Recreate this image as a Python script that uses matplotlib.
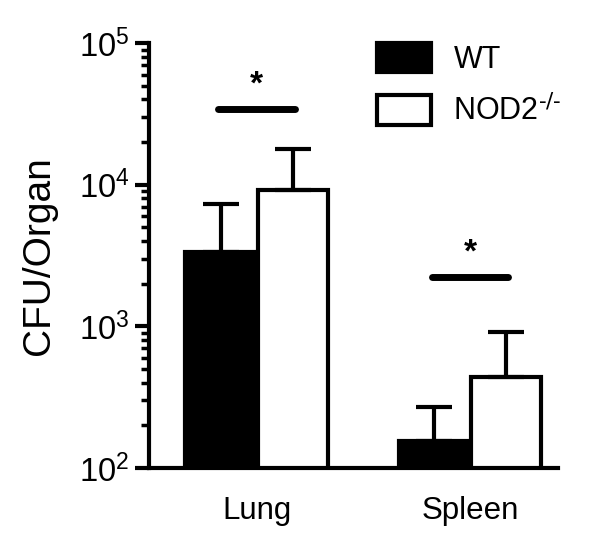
import matplotlib
matplotlib.use("Agg")
import matplotlib.pyplot as plt
import numpy as np
from matplotlib.ticker import LogLocator

plt.rcParams["font.family"] = ["Liberation Sans", "DejaVu Sans"]
plt.rcParams["mathtext.default"] = "regular"

organs = ["Lung", "Spleen"]
groups = ["WT", "NOD2$^{\\text{-/-}}$"]
wt_mean = [3340, 155]
wt_err_top = [7300, 270]
ko_mean = [9230, 438]
ko_err_top = [17950, 912]
sig_level = [34200, 2230]
sig_label = ["*", "*"]

x = np.arange(len(organs))
width = 0.33
gap = 0.01

fig = plt.figure(figsize=(6.0, 5.39), dpi=100)
ax = fig.add_axes([0.248, 0.132, 0.682, 0.788])
ax.set_yscale("log")

edge_lw = 3.0
err_kw = dict(elinewidth=3.0, capsize=13, capthick=3.0, ecolor="black")

wt_x = x - width / 2 - gap / 2
ko_x = x + width / 2 + gap / 2
wt_yerr = [np.zeros(len(organs)), np.array(wt_err_top) - np.array(wt_mean)]
ko_yerr = [np.zeros(len(organs)), np.array(ko_err_top) - np.array(ko_mean)]

ax.bar(wt_x, wt_mean, width, color="black", edgecolor="black", linewidth=edge_lw,
       yerr=wt_yerr, error_kw=err_kw, label=groups[0], zorder=2)
ax.bar(ko_x, ko_mean, width, color="white", edgecolor="black", linewidth=edge_lw,
       yerr=ko_yerr, error_kw=err_kw, label=groups[1], zorder=2)

# significance bars
half = 0.18
for i in range(len(organs)):
    ax.plot([x[i] - half, x[i] + half], [sig_level[i], sig_level[i]],
            color="black", lw=5, solid_capstyle="round", zorder=3)
    ax.text(x[i], sig_level[i] * 1.15, sig_label[i], ha="center", va="bottom",
            fontsize=24, fontweight="bold")

ax.set_ylim(100, 1e5)
ax.set_xlim(-0.507, 1.413)
ax.set_xticks(x)
ax.set_xticklabels(organs, fontsize=22.5)
ax.tick_params(axis="x", length=0, pad=20)
ax.yaxis.set_major_locator(LogLocator(base=10, numticks=10))
ax.yaxis.set_minor_locator(LogLocator(base=10, subs=np.arange(2, 10), numticks=10))
ax.tick_params(axis="y", which="major", length=10, width=3, labelsize=23.5, pad=4)
ax.tick_params(axis="y", which="minor", length=6, width=2.5)
ax.set_ylabel("CFU/Organ", fontsize=28)
ax.yaxis.set_label_coords(-0.225, 0.5)

for side in ["top", "right"]:
    ax.spines[side].set_visible(False)
for side in ["left", "bottom"]:
    ax.spines[side].set_linewidth(3)

ax.legend(loc="upper left", bbox_to_anchor=(0.628, 0.921),
          bbox_transform=fig.transFigure, frameon=False, borderpad=0,
          borderaxespad=0, fontsize=22, handlelength=1.76, handleheight=1.1,
          labelspacing=0.66, handletextpad=0.75)

fig.savefig("out.png", dpi=100)
